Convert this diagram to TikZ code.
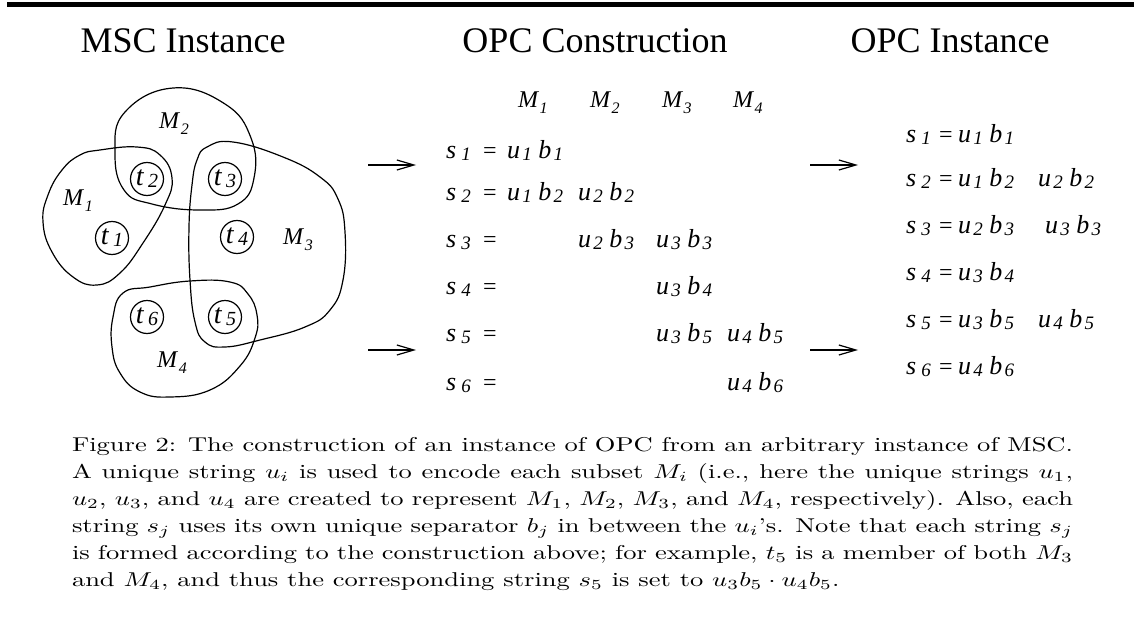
\documentclass[tikz,border=0pt]{standalone}
\usepackage{fontspec}
\usepackage{graphicx}
\usetikzlibrary{arrows.meta}
\newfontfamily\tnr{Liberation Serif}
\newlength\capnat
\newcommand\capfont{\fontsize{10}{12}\selectfont}
\AtBeginDocument{%
  \settowidth\capnat{\capfont Figure 2: The construction of an instance of OPC from an arbitrary instance of MSC.}%
  \pgfmathsetmacro\capx{500.5/\capnat}%
  \global\let\capx\capx}
\newcommand\tsubk[3]{{\tnr\itshape\fontsize{13}{13}\selectfont #1\kern#3\raisebox{-1.2pt}{\fontsize{9.5}{9.5}\selectfont #2}}}
\newcommand\tsub[2]{\tsubk{#1}{#2}{1.2pt}}
\newcommand\ssub[1]{\tsubk{s}{#1}{2.6pt}}
\newcommand\term[2]{\tsub{u}{#1}\hspace{3.2pt}\tsub{b}{#2}}
\newcommand\eqs{{\tnr\fontsize{12}{12}\selectfont =}}
\newcommand\mlab[1]{{\tnr\itshape\fontsize{12}{12}\selectfont M\kern0.8pt\raisebox{-3pt}{\fontsize{8}{8}\selectfont #1}}}
\newcommand\tlab[1]{{\tnr\itshape\fontsize{14}{14}\selectfont t\kern2.2pt\raisebox{-1pt}{\fontsize{10}{10}\selectfont #1}}}
\newcommand\capline[1]{\scalebox{\capx}[1]{\makebox[\capnat][s]{\capfont #1}}}
\tikzset{
  txt/.style={inner sep=0pt,outer sep=0pt},
  title/.style={txt,anchor=base,font=\tnr\fontsize{18}{18}\selectfont},
  blob/.style={line width=0.6pt,smooth cycle,tension=0.75},
  elem/.style={draw,circle,line width=0.6pt,minimum size=16.5pt,inner sep=0pt},
  arr/.style={line width=0.6pt,-{Straight Barb[length=8.5pt,width=5pt]}},
  capl/.style={txt,anchor=base west}
}
\begin{document}
\begin{tikzpicture}[x=0.5pt,y=-0.5pt]
\useasboundingbox (0,0) rectangle (1134,642);
% top rule
\fill (7,2.5) rectangle (1134,7.5);
% titles
\node[title] (t-msc) at (183,53) {MSC Instance};
\node[title] (t-con) at (595,53) {OPC Construction};
\node[title] (t-ins) at (950,53) {OPC Instance};
% blobs
\draw[blob] plot coordinates {(173,88) (225,104) (251,138) (254,178) (238,204) (200,210) (152,204) (124,190) (115,152) (125,112)};
\draw[blob] plot coordinates {(100,150) (137,147) (160,155) (172,178) (165,205) (143,243) (120,273) (97,285) (73,277) (52,252) (43,222) (48,195) (62,170) (80,155)};
\draw[blob] plot coordinates {(207,147) (233,142) (283,157) (320,177) (338,199) (345,232) (343,280) (330,310) (305,327) (260,340) (225,347) (205,342) (195,322) (190,280) (189,227) (192,185) (197,160)};
\draw[blob] plot coordinates {(123,293) (150,287) (190,281) (230,282) (248,294) (257,315) (255,338) (240,366) (210,390) (170,397) (140,392) (120,373) (112,347) (113,317)};
% elements
\node[elem] (e2) at (147,179) {\tlab{2}};
\node[elem] (e3) at (225,179) {\tlab{3}};
\node[elem] (e1) at (112,238) {\tlab{1}};
\node[elem] (e4) at (237,237) {\tlab{4}};
\node[elem] (e6) at (147,317) {\tlab{6}};
\node[elem] (e5) at (225,317) {\tlab{5}};
% set labels
\node[txt] (lm2) at (174,124) {\mlab{2}};
\node[txt] (lm1) at (78,201) {\mlab{1}};
\node[txt] (lm3) at (298,240) {\mlab{3}};
\node[txt] (lm4) at (172,363) {\mlab{4}};
% arrows
\coordinate (a1s) at (368,165); \coordinate (a1e) at (416,165);
\coordinate (a2s) at (368,350); \coordinate (a2e) at (416,350);
\coordinate (a3s) at (810,165); \coordinate (a3e) at (858,165);
\coordinate (a4s) at (810,350); \coordinate (a4e) at (858,350);
\draw[arr] (a1s) -- (a1e);
\draw[arr] (a2s) -- (a2e);
\draw[arr] (a3s) -- (a3e);
\draw[arr] (a4s) -- (a4e);
% construction header
\node[txt,anchor=base west] (h1) at (518,107) {\mlab{1}};
\node[txt,anchor=base west] (h2) at (590,107) {\mlab{2}};
\node[txt,anchor=base west] (h3) at (662,107) {\mlab{3}};
\node[txt,anchor=base west] (h4) at (733,107) {\mlab{4}};
% construction rows
\foreach \i/\y in {1/158,2/200,3/247,4/294,5/341,6/390}{
  \node[txt,anchor=base west] (cs\i) at (446,\y) {\ssub{\i}};
  \node[txt,anchor=base west] (ceq\i) at (483,\y) {\eqs};
}
\node[txt,anchor=base west] (c11) at (507,158) {\term{1}{1}};
\node[txt,anchor=base west] (c21) at (507,200) {\term{1}{2}};
\node[txt,anchor=base west] (c22) at (578,200) {\term{2}{2}};
\node[txt,anchor=base west] (c32) at (578,247) {\term{2}{3}};
\node[txt,anchor=base west] (c33) at (656,247) {\term{3}{3}};
\node[txt,anchor=base west] (c43) at (656,294) {\term{3}{4}};
\node[txt,anchor=base west] (c53) at (656,341) {\term{3}{5}};
\node[txt,anchor=base west] (c54) at (727,341) {\term{4}{5}};
\node[txt,anchor=base west] (c64) at (727,390) {\term{4}{6}};
% instance rows
\foreach \i/\y in {1/142,2/186,3/233,4/280,5/327,6/374}{
  \node[txt,anchor=base west] (is\i) at (906,\y) {\ssub{\i}};
  \node[txt,anchor=base west] (ieq\i) at (939,\y) {\eqs};
}
\node[txt,anchor=base west] (i11) at (958,142) {\term{1}{1}};
\node[txt,anchor=base west] (i21) at (958,186) {\term{1}{2}};
\node[txt,anchor=base west] (i22) at (1038,186) {\term{2}{2}};
\node[txt,anchor=base west] (i32) at (958,233) {\term{2}{3}};
\node[txt,anchor=base west] (i33) at (1045,233) {\term{3}{3}};
\node[txt,anchor=base west] (i43) at (958,280) {\term{3}{4}};
\node[txt,anchor=base west] (i53) at (958,327) {\term{3}{5}};
\node[txt,anchor=base west] (i54) at (1038,327) {\term{4}{5}};
\node[txt,anchor=base west] (i64) at (958,374) {\term{4}{6}};
% caption
\node[capl] (cap1) at (72,451) {\capline{Figure 2: The construction of an instance of OPC from an arbitrary instance of MSC.}};
\node[capl] (cap2) at (72,478) {\capline{A unique string $u_i$ is used to encode each subset $M_i$ (i.e., here the unique strings $u_1$,}};
\node[capl] (cap3) at (72,505) {\capline{$u_2$, $u_3$, and $u_4$ are created to represent $M_1$, $M_2$, $M_3$, and $M_4$, respectively). Also, each}};
\node[capl] (cap4) at (72,532) {\capline{string $s_j$ uses its own unique separator $b_j$ in between the $u_i$'s. Note that each string $s_j$}};
\node[capl] (cap5) at (72,559) {\capline{is formed according to the construction above; for example, $t_5$ is a member of both $M_3$}};
\node[capl] (cap6) at (72,586) {\scalebox{\capx}[1]{\capfont and $M_4$, and thus the corresponding string $s_5$ is set to $u_3b_5\cdot u_4b_5$.}};
\end{tikzpicture}
\end{document}
